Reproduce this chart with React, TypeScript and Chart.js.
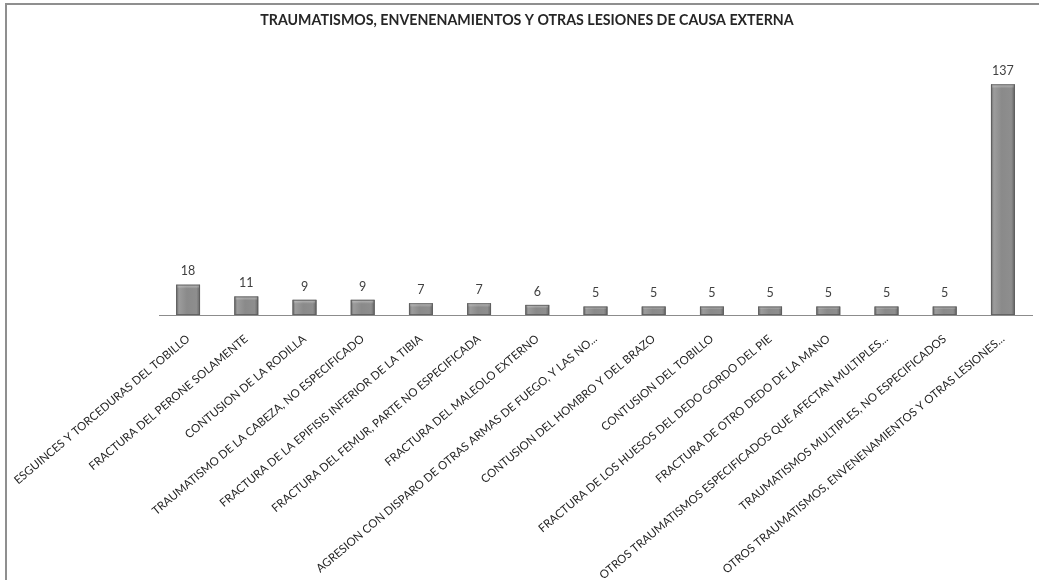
import { useEffect, useRef } from "react";
import { Chart, registerables } from "chart.js";

Chart.register(...registerables);

const chartTitle = "TRAUMATISMOS, ENVENENAMIENTOS Y OTRAS LESIONES DE CAUSA EXTERNA";

const categories = [
  "ESGUINCES Y TORCEDURAS DEL TOBILLO",
  "FRACTURA DEL PERONE SOLAMENTE",
  "CONTUSION DE LA RODILLA",
  "TRAUMATISMO DE LA CABEZA, NO ESPECIFICADO",
  "FRACTURA DE LA EPIFISIS INFERIOR DE LA TIBIA",
  "FRACTURA DEL FEMUR, PARTE NO ESPECIFICADA",
  "FRACTURA DEL MALEOLO EXTERNO",
  "AGRESION CON DISPARO DE OTRAS ARMAS DE FUEGO, Y LAS NO...",
  "CONTUSION DEL HOMBRO Y DEL BRAZO",
  "CONTUSION DEL TOBILLO",
  "FRACTURA DE LOS HUESOS DEL DEDO GORDO DEL PIE",
  "FRACTURA DE OTRO DEDO DE LA MANO",
  "OTROS TRAUMATISMOS ESPECIFICADOS QUE AFECTAN MULTIPLES...",
  "TRAUMATISMOS MULTIPLES, NO ESPECIFICADOS",
  "OTROS TRAUMATISMOS, ENVENENAMIENTOS Y OTRAS LESIONES...",
];

const cases = [18, 11, 9, 9, 7, 7, 6, 5, 5, 5, 5, 5, 5, 5, 137];

const yMin = 0;
const yMax = 160;

const FONT = "Lato, 'Open Sans', 'DejaVu Sans', sans-serif";

// Centres the heading over the whole card rather than the plot area.
const cardTitle = {
  id: "cardTitle",
  afterDraw(chart: any) {
    const ctx = chart.ctx;
    ctx.save();
    ctx.font = `bold 14.2px ${FONT}`;
    ctx.fillStyle = "#262626";
    ctx.textAlign = "center";
    ctx.textBaseline = "middle";
    ctx.fillText(chartTitle, 527, 20);
    ctx.restore();
  },
};

// Paints each bar with a cylinder-style shading and a light top bevel.
const shadedBars = {
  id: "shadedBars",
  afterDatasetsDraw(chart: any) {
    const ctx = chart.ctx;
    const meta = chart.getDatasetMeta(0);
    ctx.save();
    meta.data.forEach((bar: any) => {
      const { x, y, base, width } = bar.getProps(["x", "y", "base", "width"], true);
      const left = x - width / 2;
      const h = base - y;
      const g = ctx.createLinearGradient(left, 0, left + width, 0);
      g.addColorStop(0, "#6a6a6a");
      g.addColorStop(0.12, "#9c9c9c");
      g.addColorStop(0.45, "#8a8a8a");
      g.addColorStop(0.85, "#8e8e8e");
      g.addColorStop(1, "#666666");
      ctx.fillStyle = g;
      ctx.fillRect(left, y, width, h);
      const bevel = Math.min(4, h / 3);
      const t = ctx.createLinearGradient(0, y, 0, y + bevel);
      t.addColorStop(0, "rgba(230,230,230,0.55)");
      t.addColorStop(1, "rgba(230,230,230,0)");
      ctx.fillStyle = t;
      ctx.fillRect(left + 1, y, width - 2, bevel);
      ctx.strokeStyle = "rgba(90,90,90,0.8)";
      ctx.lineWidth = 1;
      ctx.strokeRect(left + 0.5, y + 0.5, width - 1, h - 1);
    });
    ctx.restore();
  },
};

// Writes each bar's value just above it.
const valueLabels = {
  id: "valueLabels",
  afterDatasetsDraw(chart: any) {
    const ctx = chart.ctx;
    const meta = chart.getDatasetMeta(0);
    const values = chart.data.datasets[0].data as number[];
    ctx.save();
    ctx.font = `12.5px ${FONT}`;
    ctx.fillStyle = "#404040";
    ctx.textAlign = "center";
    ctx.textBaseline = "bottom";
    meta.data.forEach((bar: any, i: number) => {
      ctx.fillText(String(values[i]), bar.x, bar.y - 7);
    });
    ctx.restore();
  },
};

export default function App() {
  const canvasRef = useRef<HTMLCanvasElement | null>(null);

  useEffect(() => {
    if (!canvasRef.current) return;
    const chart = new Chart(canvasRef.current, {
      type: "bar",
      data: {
        labels: categories,
        datasets: [
          {
            data: cases,
            backgroundColor: "#8a8a8a",
            borderWidth: 0,
            barPercentage: 0.41,
            categoryPercentage: 1,
          },
        ],
      },
      options: {
        animation: false,
        responsive: false,
        devicePixelRatio: 1,
        layout: { padding: { left: 159, right: 7, top: 45.6, bottom: 0 } },
        plugins: {
          legend: { display: false },
          tooltip: { enabled: false },
          title: { display: false },
        },
        scales: {
          x: {
            grid: { display: false, drawTicks: false },
            border: { display: true, color: "#8c8c8c", width: 1 },
            ticks: {
              autoSkip: false,
              minRotation: 40,
              maxRotation: 40,
              padding: 17,
              color: "#262626",
              font: { family: FONT, size: 11.5 },
            },
            afterFit: (scale: any) => {
              scale.height = 265;
              scale.paddingLeft = 0;
              scale.paddingRight = 0;
            },
          },
          y: {
            display: false,
            min: yMin,
            max: yMax,
          },
        },
      },
      plugins: [shadedBars, valueLabels, cardTitle],
    });
    return () => chart.destroy();
  }, []);

  return (
    <div
      style={{
        position: "fixed",
        left: 0,
        top: 0,
        width: 1039,
        height: 580,
        background: "#ffffff",
        overflow: "hidden",
      }}
    >
      <canvas
        ref={canvasRef}
        width={1039}
        height={580}
        style={{ position: "absolute", left: 0, top: 0, width: 1039, height: 580 }}
      />
      <div
        style={{
          position: "absolute",
          left: 5,
          top: 3,
          right: 0,
          bottom: 0,
          borderLeft: "2px solid #8f8f8f",
          borderTop: "2px solid #8f8f8f",
          pointerEvents: "none",
        }}
      />
    </div>
  );
}
